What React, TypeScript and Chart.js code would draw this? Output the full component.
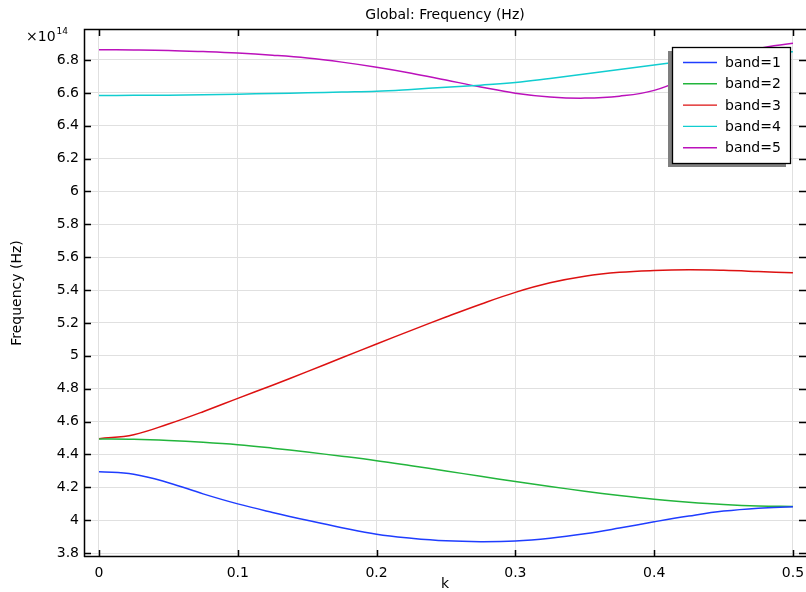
import { useEffect, useRef } from "react";
import { Chart, registerables } from "chart.js";

Chart.register(...registerables);

// ---- data (frequency in units of 1e14 Hz) ----
const kValues = [0, 0.025, 0.05, 0.075, 0.1, 0.125, 0.15, 0.175, 0.2, 0.225, 0.25, 0.275, 0.3, 0.325, 0.35, 0.375, 0.4, 0.425, 0.45, 0.475, 0.5];

const band1 = [4.295, 4.279, 4.228, 4.16, 4.099, 4.047, 3.999, 3.954, 3.914, 3.89, 3.874, 3.869, 3.873, 3.89, 3.917, 3.952, 3.99, 4.025, 4.055, 4.073, 4.082];
const band2 = [4.494, 4.492, 4.485, 4.474, 4.459, 4.438, 4.414, 4.389, 4.362, 4.331, 4.299, 4.267, 4.235, 4.205, 4.176, 4.15, 4.127, 4.109, 4.095, 4.086, 4.083];
const band3 = [4.495, 4.52, 4.585, 4.66, 4.741, 4.821, 4.904, 4.988, 5.072, 5.155, 5.236, 5.314, 5.386, 5.444, 5.484, 5.508, 5.519, 5.523, 5.52, 5.513, 5.505];
const band4 = [6.584, 6.585, 6.586, 6.589, 6.592, 6.596, 6.6, 6.605, 6.61, 6.621, 6.634, 6.647, 6.663, 6.688, 6.715, 6.742, 6.77, 6.795, 6.817, 6.838, 6.85];
const band5 = [6.862, 6.861, 6.858, 6.851, 6.842, 6.829, 6.812, 6.787, 6.756, 6.72, 6.678, 6.636, 6.598, 6.575, 6.568, 6.58, 6.615, 6.698, 6.795, 6.868, 6.902];

const bandSeries = [band1, band2, band3, band4, band5];
const bandLabels = ["band=1", "band=2", "band=3", "band=4", "band=5"];
const bandColors = ["#1f3dff", "#22b53c", "#dd1111", "#11cdd0", "#bb11bb"];

const xTicks = [0, 0.1, 0.2, 0.3, 0.4, 0.5];
const yTicks = [3.8, 4, 4.2, 4.4, 4.6, 4.8, 5, 5.2, 5.4, 5.6, 5.8, 6, 6.2, 6.4, 6.6, 6.8];

const titleText = "Global: Frequency (Hz)";
const xAxisTitle = "k";
const yAxisTitle = "Frequency (Hz)";
const exponentBase = "\u00d710";
const exponentPower = "14";

const X_MIN = -0.0108;
const X_MAX = 0.5094;
const Y_MIN = 3.7757;
const Y_MAX = 6.9886;

const FONT = "'DejaVu Sans', sans-serif";

const decorPlugin = {
  id: "decor",
  afterDraw(chart: any) {
    const { ctx } = chart;
    const { left, right, top, bottom } = chart.chartArea;
    const xs = chart.scales.x;
    const ys = chart.scales.y;
    ctx.save();

    // frame (left, top, bottom)
    ctx.strokeStyle = "#000";
    ctx.lineWidth = 1.5;
    ctx.beginPath();
    ctx.moveTo(left + 0.5, bottom);
    ctx.lineTo(left + 0.5, top + 0.5);
    ctx.lineTo(right, top + 0.5);
    ctx.moveTo(left, bottom - 0.5);
    ctx.lineTo(right, bottom - 0.5);
    ctx.stroke();

    // inner ticks on all four sides
    const tl = 7;
    ctx.lineWidth = 1.5;
    ctx.beginPath();
    for (const v of xTicks) {
      const px = Math.round(xs.getPixelForValue(v)) + 0.5;
      ctx.moveTo(px, bottom);
      ctx.lineTo(px, bottom - tl);
      ctx.moveTo(px, top);
      ctx.lineTo(px, top + tl);
    }
    for (const v of yTicks) {
      const py = Math.round(ys.getPixelForValue(v)) + 0.5;
      ctx.moveTo(left, py);
      ctx.lineTo(left + tl, py);
      ctx.moveTo(right, py);
      ctx.lineTo(right - tl, py);
    }
    ctx.stroke();

    // title
    ctx.fillStyle = "#000";
    ctx.font = `14px ${FONT}`;
    ctx.textAlign = "center";
    ctx.textBaseline = "alphabetic";
    ctx.fillText(titleText, (left + right) / 2, 19);

    // x axis title
    ctx.fillText(xAxisTitle, (left + right) / 2, 588);

    // y axis title
    ctx.save();
    ctx.translate(17, (top + bottom) / 2);
    ctx.rotate(-Math.PI / 2);
    ctx.textBaseline = "middle";
    ctx.fillText(yAxisTitle, 0, 0);
    ctx.restore();

    // exponent
    ctx.textAlign = "left";
    ctx.textBaseline = "alphabetic";
    ctx.font = `14px ${FONT}`;
    ctx.fillText(exponentBase, 26, 41);
    const w = ctx.measureText(exponentBase).width;
    ctx.font = `9px ${FONT}`;
    ctx.fillText(exponentPower, 26 + w + 1, 34);

    // legend with shadow
    const lx = right - 134;
    const ly = top + 18;
    const lw = 118;
    const lh = 116;
    ctx.fillStyle = "#7f7f7f";
    ctx.fillRect(lx - 4, ly + 4, lw, lh);
    ctx.fillStyle = "#fff";
    ctx.fillRect(lx, ly, lw, lh);
    ctx.strokeStyle = "#000";
    ctx.lineWidth = 1.3;
    ctx.strokeRect(lx + 0.5, ly + 0.5, lw, lh);
    ctx.font = `14px ${FONT}`;
    ctx.textBaseline = "middle";
    ctx.textAlign = "left";
    bandLabels.forEach((lab, i) => {
      const ry = ly + 15.5 + i * 21.3;
      ctx.strokeStyle = bandColors[i];
      ctx.lineWidth = 1.4;
      ctx.beginPath();
      ctx.moveTo(lx + 11, ry);
      ctx.lineTo(lx + 45, ry);
      ctx.stroke();
      ctx.fillStyle = "#000";
      ctx.fillText(lab, lx + 53, ry + 1);
    });

    ctx.restore();
  },
};

export default function App() {
  const canvasRef = useRef<HTMLCanvasElement | null>(null);

  useEffect(() => {
    const canvas = canvasRef.current;
    if (!canvas) return;
    const datasets = bandSeries.map((series, i) => ({
      label: bandLabels[i],
      data: kValues.map((k, j) => ({ x: k, y: series[j] })),
      borderColor: bandColors[i],
      backgroundColor: bandColors[i],
      borderWidth: 1.5,
      pointRadius: 0,
      fill: false,
      tension: 0.4,
    }));

    const chart = new Chart(canvas, {
      type: "line",
      data: { datasets },
      options: {
        responsive: false,
        animation: false,
        layout: { padding: { top: 29, right: 0, left: 0, bottom: 0 } },
        plugins: {
          legend: { display: false },
          title: { display: false },
          tooltip: { enabled: false },
        },
        scales: {
          x: {
            type: "linear",
            min: X_MIN,
            max: X_MAX,
            afterBuildTicks: (ax: any) => {
              ax.ticks = xTicks.map((v) => ({ value: v }));
            },
            afterFit: (ax: any) => {
              ax.height = 35;
              ax.paddingLeft = 0;
              ax.paddingRight = 0;
            },
            grid: { color: "#e0e0e0", lineWidth: 1, drawTicks: false },
            border: { display: false },
            ticks: {
              padding: 8,
              color: "#000",
              font: { family: FONT, size: 14 },
              maxRotation: 0,
              autoSkip: false,
              callback: (v: any) => String(Math.round(Number(v) * 10) / 10),
            },
          },
          y: {
            type: "linear",
            min: Y_MIN,
            max: Y_MAX,
            afterBuildTicks: (ax: any) => {
              ax.ticks = yTicks.map((v) => ({ value: v }));
            },
            afterFit: (ax: any) => {
              ax.width = 84;
              ax.paddingTop = 0;
              ax.paddingBottom = 0;
            },
            grid: { color: "#e0e0e0", lineWidth: 1, drawTicks: false },
            border: { display: false },
            ticks: {
              padding: 5,
              color: "#000",
              font: { family: FONT, size: 14 },
              autoSkip: false,
              callback: (v: any) => String(Math.round(Number(v) * 10) / 10),
            },
          },
        },
      },
      plugins: [decorPlugin],
    });
    return () => chart.destroy();
  }, []);

  return (
    <div style={{ position: "absolute", left: 0, top: 0, width: 806, height: 592, background: "#fff" }}>
      <canvas ref={canvasRef} width={806} height={592} style={{ display: "block" }} />
    </div>
  );
}
